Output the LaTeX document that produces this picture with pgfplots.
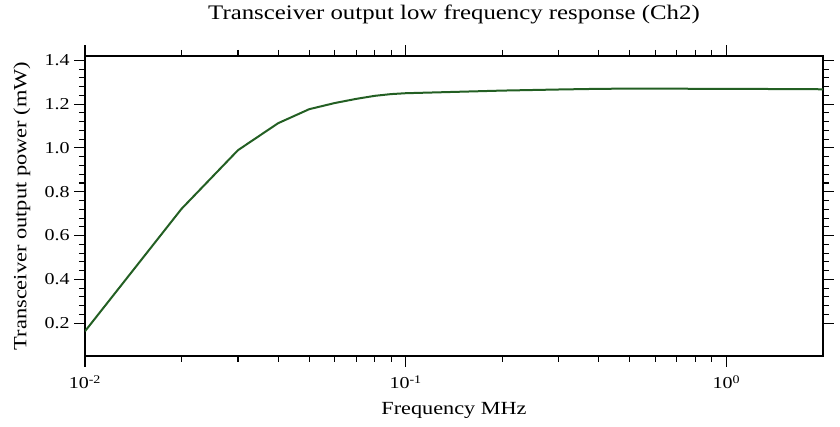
\documentclass[border=0pt]{standalone}
\usepackage{fontspec}
\setmainfont[FakeStretch=1.2]{Liberation Serif}
\usepackage{pgfplots}
\pgfplotsset{compat=1.18}
\definecolor{curve}{RGB}{35,95,35}
\pgfplotstableread{
x y
0.01 0.163
0.02 0.722
0.03 0.990
0.04 1.113
0.05 1.177
0.06 1.205
0.07 1.224
0.08 1.238
0.09 1.246
0.10 1.250
0.20 1.262
0.30 1.267
0.40 1.270
0.50 1.271
0.60 1.271
0.70 1.271
0.80 1.270
0.90 1.270
1.00 1.270
1.50 1.269
2.00 1.268
}\datatable
\begin{document}
\begin{tikzpicture}
\useasboundingbox (-63.75pt,-53.25pt) rectangle (566.25pt,267pt);
\begin{axis}[
  at={(0,0)}, anchor=south west,
  scale only axis, width=553.5pt, height=225pt,
  xmode=log, xmin=0.01, xmax=2.0, ymin=0.05, ymax=1.42,
  xtick={0.01,0.1,1},
  xticklabels={10\textsuperscript{-2},10\textsuperscript{-1},10\textsuperscript{0}},
  xticklabel style={yshift=-3pt},
  ytick={0.2,0.4,0.6,0.8,1.0,1.2,1.4},
  minor y tick num=4,
  yticklabel style={/pgf/number format/.cd,fixed,fixed zerofill,precision=1,assume math mode=true},
  tick align=outside,
  major tick length=8pt, minor tick length=4.5pt,
  every tick/.style={black, line width=0.8pt},
  axis line style={line width=0.9pt},
  ticklabel style={font=\fontsize{12.5}{14}\selectfont},
  every axis title shift=0pt,
  title={Transceiver output low frequency response (Ch2)},
  title style={at={(axis description cs:0.5,1.137)}, anchor=center, font=\fontsize{15.5}{17}\selectfont},
  xlabel={Frequency MHz},
  xlabel style={at={(axis description cs:0.5,-0.18)}, anchor=center, font=\fontsize{13.9}{15}\selectfont},
  ylabel={Transceiver output power (mW)},
  ylabel style={at={(axis description cs:-0.0854,0.5)}, anchor=center, font=\fontsize{14}{15}\selectfont},
]
\addplot[curve, line width=1.5pt, no markers] table[x=x,y=y] {\datatable};
\end{axis}
\end{tikzpicture}
\end{document}
